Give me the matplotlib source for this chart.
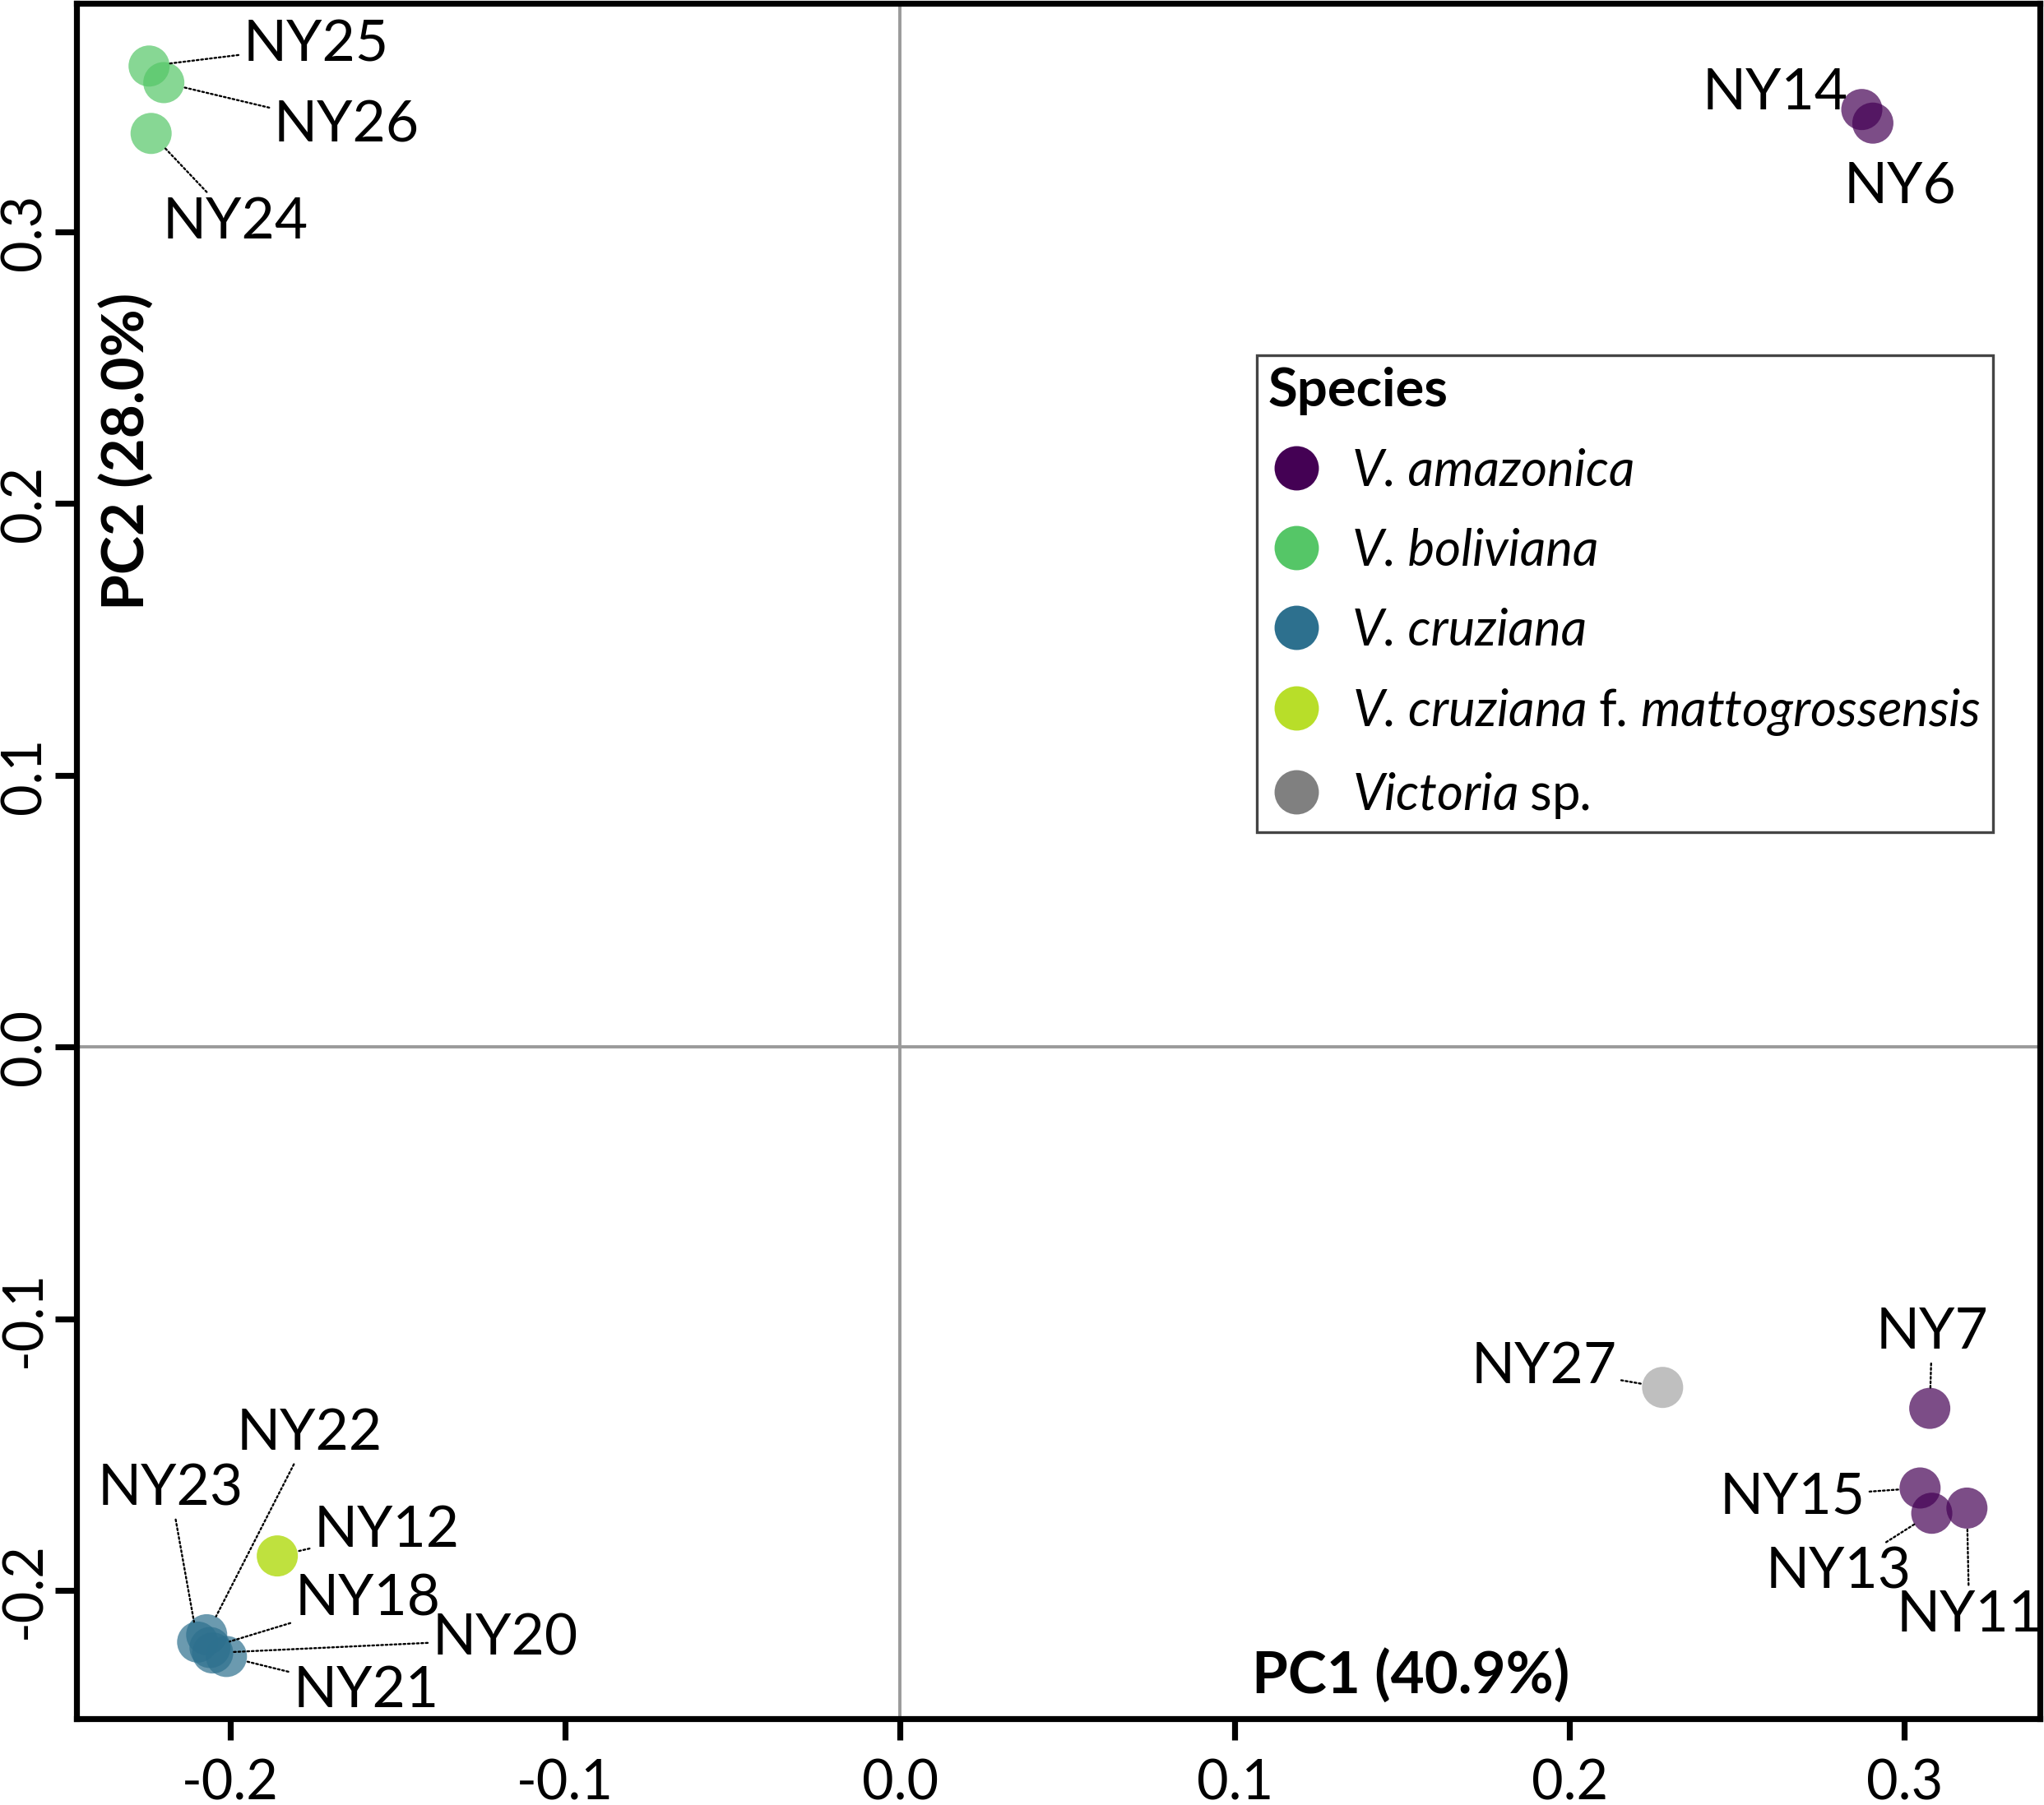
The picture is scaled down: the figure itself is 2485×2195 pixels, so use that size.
import matplotlib
matplotlib.use('Agg')
import matplotlib.pyplot as plt
from matplotlib.lines import Line2D

plt.rcParams['font.family'] = ['Lato', 'DejaVu Sans']
plt.rcParams['mathtext.fontset'] = 'custom'
plt.rcParams['mathtext.it'] = 'Lato:italic'
plt.rcParams['mathtext.rm'] = 'Lato'
plt.rcParams['axes.unicode_minus'] = False

# PCA scores
samples = ['NY25', 'NY26', 'NY24', 'NY14', 'NY6', 'NY27', 'NY7', 'NY15',
           'NY13', 'NY11', 'NY12', 'NY23', 'NY22', 'NY18', 'NY20', 'NY21']
pc1 = [-0.2243, -0.2199, -0.2237, 0.2873, 0.2906, 0.2278, 0.3076, 0.3047,
       0.3082, 0.3187, -0.1860, -0.2098, -0.2071, -0.2061, -0.2053, -0.2012]
pc2 = [0.3610, 0.3549, 0.3362, 0.3450, 0.3400, -0.1252, -0.1329, -0.1622,
       -0.1715, -0.1696, -0.1872, -0.2189, -0.2162, -0.2209, -0.2229, -0.2242]
species = ['bol', 'bol', 'bol', 'ama', 'ama', 'sp', 'ama', 'ama',
           'ama', 'ama', 'mat', 'cru', 'cru', 'cru', 'cru', 'cru']

species_keys = ['ama', 'bol', 'cru', 'mat', 'sp']
# legend text is italic; $\mathrm{}$ bits stay upright
species_labels = ['V. amazonica',
                  'V. boliviana',
                  'V. cruziana',
                  r'V. cruziana $\mathrm{f}$. mattogrossensis',
                  r'Victoria $\mathrm{sp}$.']
species_colors = ['#440154', '#55C667', '#2D708E', '#B8DE29', '#808080']
species_alpha = [0.7, 0.7, 0.7, 0.9, 0.5]

x_ticks = [-0.2, -0.1, 0.0, 0.1, 0.2, 0.3]
y_ticks = [-0.2, -0.1, 0.0, 0.1, 0.2, 0.3]

# label offsets (points) from each sample
label_offset = {
    'NY25': (73, 9), 'NY26': (80, -19), 'NY24': (37, -39),
    'NY14': (-38, 7), 'NY6': (12, -28), 'NY27': (-52, 9),
    'NY7': (1, 33), 'NY15': (-56, -4), 'NY13': (-41, -26),
    'NY11': (1, -47), 'NY12': (48, 11), 'NY23': (-12, 67),
    'NY22': (45, 88), 'NY18': (69, 21), 'NY20': (128, 6),
    'NY21': (61, -15),
}
no_leader = ['NY14', 'NY6']

fig = plt.figure(figsize=(12.425, 10.975), dpi=200)
ax = fig.add_axes([0.0374, 0.0478, 0.9606, 0.9504])

ax.axhline(0, color='#9a9a9a', lw=1.4, zorder=1)
ax.axvline(0, color='#9a9a9a', lw=1.4, zorder=1)

for key, col, a in zip(species_keys, species_colors, species_alpha):
    xs = [x for x, s in zip(pc1, species) if s == key]
    ys = [y for y, s in zip(pc2, species) if s == key]
    ax.scatter(xs, ys, s=324, color=col, alpha=a, edgecolors='none', zorder=3)

for name, x, y in zip(samples, pc1, pc2):
    arrow = None
    if name not in no_leader:
        arrow = dict(arrowstyle='-', linestyle=(0, (1, 1.3)), lw=0.85,
                     color='black', shrinkA=0, shrinkB=9)
    ax.annotate(name, xy=(x, y), xytext=label_offset[name],
                textcoords='offset points', ha='center', va='center',
                fontsize=25, zorder=4, arrowprops=arrow)

ax.set_xlim(-0.246, 0.3405)
ax.set_ylim(-0.2471, 0.3841)
ax.set_xticks(x_ticks)
ax.set_xticklabels(['%.1f' % v for v in x_ticks])
ax.set_yticks(y_ticks)
ax.set_yticklabels(['%.1f' % v for v in y_ticks], rotation=90, va='center')
ax.tick_params(length=9.4, width=2.6, labelsize=24, pad=8)
ax.tick_params(axis='y', pad=2)
for sp in ax.spines.values():
    sp.set_linewidth(2.6)

ax.text(0.6795, 0.0254, 'PC1 (40.9%)', transform=ax.transAxes,
        ha='center', va='center', fontsize=25.5, weight='bold')
ax.text(0.0254, 0.739, 'PC2 (28.0%)', transform=ax.transAxes, rotation=90,
        ha='center', va='center', fontsize=25.5, weight='bold')

handles = [Line2D([], [], marker='o', linestyle='none', markersize=19.4,
                  markerfacecolor=c, markeredgecolor='none')
           for c in species_colors]
leg = ax.legend(handles, species_labels, title='Species', loc='upper left',
                bbox_to_anchor=(0.601, 0.795), borderaxespad=0, fontsize=22.2,
                title_fontproperties={'weight': 'bold', 'size': 23.5},
                alignment='left', labelspacing=0.645, handlelength=1.1,
                handletextpad=0.56, borderpad=0.23, fancybox=False,
                framealpha=1, edgecolor='#444444')
for t in leg.get_texts():
    t.set_fontstyle('italic')
leg.get_frame().set_linewidth(1.2)

fig.savefig('out.png', dpi=200)
